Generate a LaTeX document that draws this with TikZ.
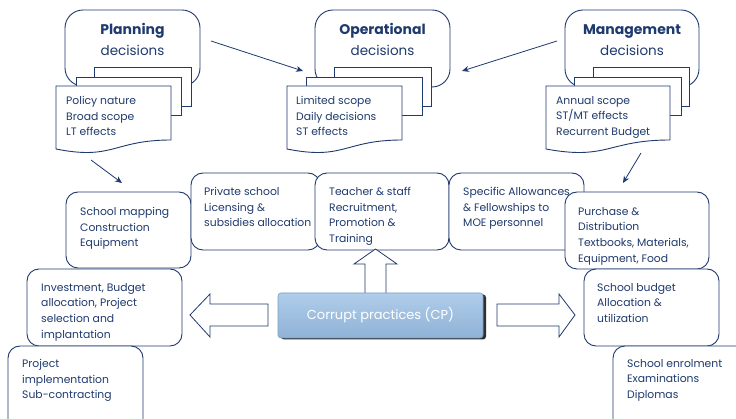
\documentclass[tikz,border=0pt]{standalone}
\usepackage{fontspec}
\setmainfont{Poppins}
\usetikzlibrary{shadows,arrows.meta,calc}
\definecolor{navy}{HTML}{1F3A6E}
\definecolor{cptop}{HTML}{B0CDEA}
\definecolor{cpbot}{HTML}{8FB2D6}
\definecolor{cpline}{HTML}{7A9EC6}
\newcommand\rrect[6][12pt]{\node[rb, rounded corners=#1, minimum width={(#5-#3)*1pt}, minimum height={(#6-#4)*1pt}] (#2) at ({(#3+#5)/2},{(#4+#6)/2}) {};}
\newcommand\sheet[5]{\node[paper, minimum width={(#4-#2)*1pt}, minimum height={(#5-#3)*1pt}] (#1) at ({(#2+#4)/2},{(#3+#5)/2}) {};}
\newcommand\docpage[4]{\draw[paper] (#2,#3) -- (#4,#3) -- (#4,#3+54) .. controls ({(#2+#4)/2},#3+54) and ({(#2+#4)/2},#3+74.5) .. (#2,#3+63) -- cycle; \coordinate (#1) at (#2,#3);}
\begin{document}
\begin{tikzpicture}[x=1pt,y=-1pt,
  rb/.style={draw=navy, line width=0.9pt, fill=white, inner sep=0pt, rectangle},
  paper/.style={draw=navy, line width=0.9pt, fill=white, inner sep=0pt, rectangle},
  txt/.style={text=navy, font=\fontsize{10.8}{15.7}\selectfont, align=left, inner sep=0pt, anchor=north west},
  ttl/.style={text=navy, font=\fontsize{14}{16}\selectfont\bfseries, anchor=base, inner sep=0pt},
  sub/.style={text=navy, font=\fontsize{13.5}{16}\selectfont, anchor=base, inner sep=0pt},
  arr/.style={draw=navy, line width=0.8pt, -{Stealth[length=7pt,width=6pt]}},
  blk/.style={draw=navy, line width=0.8pt, fill=white, line join=miter},
  cp/.style={rectangle, rounded corners=3pt, minimum width=205pt, minimum height=45pt,
    top color=cptop, bottom color=cpbot, draw=cpline, line width=0.6pt, text=white,
    font=\fontsize{13}{15}\selectfont,
    drop shadow={shadow xshift=3pt, shadow yshift=-1.5pt, fill=black!90, opacity=0.9}}
]
\useasboundingbox (0,0) rectangle (736,419);
\clip (0,0) rectangle (736,419);
\fill[white] (0,0) rectangle (736,419);

% ---- top groups ----
\rrect[18pt]{plan}{65}{10}{200}{86}
\node[ttl] (planT) at (132.5,35) {Planning};
\node[sub] (planS) at (132.5,56) {decisions};
\sheet{planB}{94}{67}{191}{106}
\sheet{planM}{76}{77}{181}{115}
\docpage{planF}{56}{86}{171}
\node[txt] (planX) at (66,96) {Policy nature\\Broad scope\\LT effects};

\rrect[18pt]{oper}{315}{10}{450}{87}
\node[ttl] (operT) at (382.5,35) {Operational};
\node[sub] (operS) at (382.5,56) {decisions};
\sheet{operB}{334}{67}{431}{106}
\sheet{operM}{306}{77}{422}{115}
\docpage{operF}{287}{86}{402}
\node[txt] (operX) at (296,96) {Limited scope\\Daily decisions\\ST effects};

\rrect[18pt]{mgmt}{565}{10}{699}{87}
\node[ttl] (mgmtT) at (632,35) {Management};
\node[sub] (mgmtS) at (632,56) {decisions};
\sheet{mgmtB}{593}{67}{689}{106}
\sheet{mgmtM}{574}{77}{681}{115}
\docpage{mgmtF}{546}{86}{670}
\node[txt] (mgmtX) at (556,96) {Annual scope\\ST/MT effects\\Recurrent Budget};

% ---- connectors ----
\coordinate (c1) at (211,41); \coordinate (c2) at (303,71);
\coordinate (c3) at (557,41); \coordinate (c4) at (462,71);
\coordinate (c5) at (91,160); \coordinate (c6) at (122,183);
\coordinate (c7) at (641,153); \coordinate (c8) at (623,183);
\draw[arr] (c1) -- (c2);
\draw[arr] (c3) -- (c4);
\draw[arr] (c5) -- (c6);
\draw[arr] (c7) -- (c8);

% ---- lower boxes ----
\rrect{smap}{66}{192}{191}{268}
\node[txt] (smapX) at (80,207) {School mapping\\Construction\\Equipment};
\rrect{priv}{191}{173}{320}{250}
\node[txt] (privX) at (204,187) {Private school\\Licensing \&\\subsidies allocation};
\rrect{teach}{315}{173}{449}{250}
\node[txt] (teachX) at (329,187) {Teacher \& staff\\Recruitment,\\Promotion \&\\Training};
\rrect{spec}{449}{173}{584}{250}
\node[txt] (specX) at (463,187) {Specific Allowances\\\& Fellowships to\\MOE personnel};
\rrect{purch}{565}{192}{709}{269}
\node[txt] (purchX) at (578,207) {Purchase \&\\Distribution\\Textbooks, Materials,\\Equipment, Food};
\rrect{invest}{27}{269}{182}{346}
\node[txt] (investX) at (41,283) {Investment, Budget\\allocation, Project\\selection and\\implantation};
\rrect{proj}{8}{346}{143}{440}
\node[txt] (projX) at (22,359) {Project\\implementation\\Sub-contracting};
\rrect{sbud}{584}{269}{719}{346}
\node[txt] (sbudX) at (597,283) {School budget\\Allocation \&\\utilization};
\rrect{enrol}{613}{346}{760}{440}
\node[txt] (enrolX) at (627,359) {School enrolment\\Examinations\\Diplomas};

% ---- block arrows ----
\draw[blk] (365,296) -- (365,264) -- (354,264) -- (375.5,249) -- (397,264) -- (386,264) -- (386,296) -- cycle;
\draw[blk] (268,304) -- (210,304) -- (210,294) -- (190,315) -- (210,337) -- (210,326) -- (268,326) -- cycle;
\draw[blk] (497,304) -- (559,304) -- (559,294) -- (575,315) -- (559,337) -- (559,326) -- (497,326) -- cycle;

% ---- centre ----
\node[cp] (cpN) at (380.5,315.5) {Corrupt practices (CP)};
\end{tikzpicture}
\end{document}
